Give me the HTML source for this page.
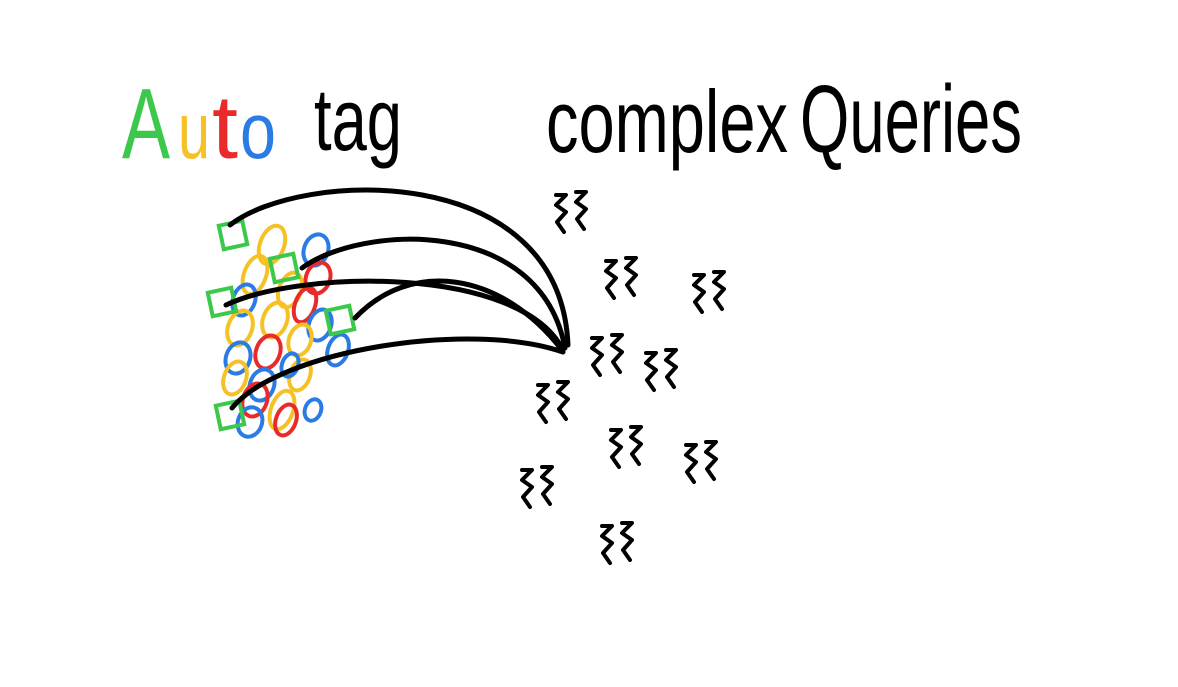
<!DOCTYPE html>
<html><head><meta charset="utf-8"><style>
html,body{margin:0;padding:0;background:#fff;width:1178px;height:687px;overflow:hidden}
svg{display:block}
text{font-family:"Liberation Sans",sans-serif;}
</style></head><body>
<svg id="s" width="1178" height="687" viewBox="0 0 1178 687">
<g font-size="100">
<text x="122" y="158" fill="#3cc84a" textLength="48" lengthAdjust="spacingAndGlyphs">A</text>
<text x="178" y="158" fill="#f5c124" font-size="80" textLength="32" lengthAdjust="spacingAndGlyphs">u</text>
<text x="212" y="158" fill="#ea2a2a" font-size="90" textLength="26" lengthAdjust="spacingAndGlyphs">t</text>
<text x="240" y="158" fill="#2b7be4" font-size="80" textLength="36" lengthAdjust="spacingAndGlyphs">o</text>
</g>
<text x="314" y="150" font-size="88" fill="#000" textLength="88" lengthAdjust="spacingAndGlyphs">tag</text>
<text x="546" y="152" font-size="88" fill="#000" textLength="242" lengthAdjust="spacingAndGlyphs">complex</text>
<text x="800" y="152" font-size="96" fill="#000" textLength="222" lengthAdjust="spacingAndGlyphs">Queries</text>
<g id="dots"></g>
<g id="arcs" fill="none" stroke="#000" stroke-width="5" stroke-linecap="round">
<path d="M230 225 C300 170 560 160 568 345"/>
<path d="M302 268 C360 225 540 215 565 348"/>
<path d="M226 305 C300 270 520 265 563 350"/>
<path d="M355 318 C410 260 500 270 562 350"/>
<path d="M232 408 C280 350 470 320 563 352"/>
</g>
<g id="sq" fill="none" stroke="#000" stroke-width="4" stroke-linecap="round" stroke-linejoin="round"></g>
</svg>
<script>
const NS="http://www.w3.org/2000/svg";
const ellipses=[
["#2b7be4",316,250,12,16],["#f5c124",272,245,12,20],["#f5c124",255,275,11,20],["#ea2a2a",318,278,12,16],
["#f5c124",290,290,11,18],["#2b7be4",244,300,11,16],["#ea2a2a",305,305,10,18],["#f5c124",275,320,12,18],
["#f5c124",240,328,12,18],["#2b7be4",320,325,11,16],["#f5c124",300,340,11,16],["#2b7be4",338,350,10,16],
["#2b7be4",238,358,12,16],["#ea2a2a",268,352,12,17],["#f5c124",235,378,11,17],["#2b7be4",262,385,12,16],
["#f5c124",300,375,10,16],["#ea2a2a",255,400,12,17],["#f5c124",282,410,11,20],["#2b7be4",250,422,12,15],
["#ea2a2a",286,420,10,16],["#2b7be4",313,410,8,11],["#2b7be4",290,365,8,12]
];
const squares=[[233,235],[284,268],[222,302],[340,320],[230,415]];
const squiggles=[[570,212],[620,278],[708,292],[606,355],[660,370],[552,402],[625,447],[700,462],[536,487],[616,543]];
const dots=document.getElementById('dots');
ellipses.forEach(e=>{const el=document.createElementNS(NS,'ellipse');


el.setAttribute('cx',e[1]);el.setAttribute('cy',e[2]);el.setAttribute('rx',e[3]);el.setAttribute('ry',e[4]);
el.setAttribute('fill','none');el.setAttribute('stroke',e[0]);el.setAttribute('stroke-width','4');
el.setAttribute('transform','rotate(20 '+e[1]+' '+e[2]+')');dots.appendChild(el);});
squares.forEach(s=>{const el=document.createElementNS(NS,'rect');


el.setAttribute('x',s[0]-12);el.setAttribute('y',s[1]-12);el.setAttribute('width',24);el.setAttribute('height',24);
el.setAttribute('fill','none');el.setAttribute('stroke','#3cc84a');el.setAttribute('stroke-width','4');
el.setAttribute('transform','rotate(-12 '+s[0]+' '+s[1]+')');dots.appendChild(el);});
const sq=document.getElementById('sq');
function glyph(x,y){return 'M'+(x-5)+' '+(y-17)+' l10 0 l-10 10 l10 7 l-9 10 l7 10';}
squiggles.forEach(p=>{const el=document.createElementNS(NS,'path');


el.setAttribute('d',glyph(p[0]-9,p[1])+' '+glyph(p[0]+11,p[1]-3));sq.appendChild(el);});
</script>
</body></html>
